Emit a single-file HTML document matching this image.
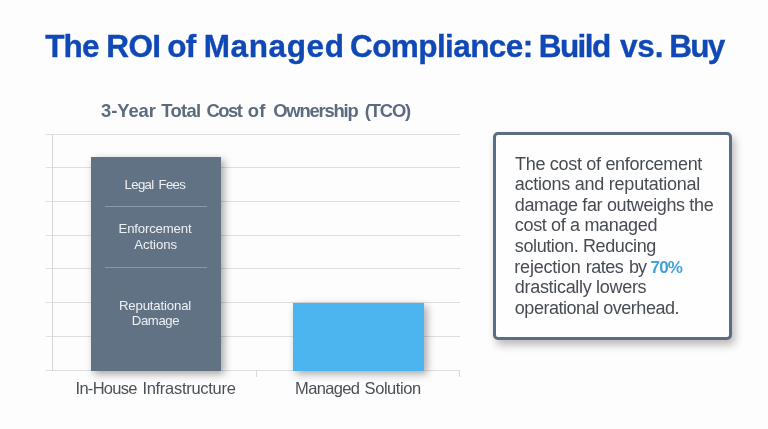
<!DOCTYPE html>
<html><head><meta charset="utf-8">
<title>The ROI of Managed Compliance: Build vs. Buy</title>
<style>
html,body{margin:0;padding:0;}
body{width:768px;height:429px;background:#fdfdfe;overflow:hidden;position:relative;font-family:"Liberation Sans",sans-serif;}
.ln{position:absolute;white-space:nowrap;line-height:20px;height:20px;font-weight:normal;}
.ln span{position:absolute;top:0;}
.ln i{font-style:normal;}
.t{color:#1049b6;font-weight:bold;-webkit-text-stroke:0.35px #1049b6;}
.c{color:#5d6b7f;font-weight:bold;}
.s{color:#eef1f4;}
.x{color:#4b5057;}
.p{color:#474c53;}
b.p{color:#3fa2dc;font-weight:bold;}
.grid{position:absolute;left:45.5px;width:414.2px;height:1px;background:#dedee2;}
#axis{position:absolute;left:52px;top:134px;width:1px;height:237px;background:#d6d6da;}
.tick{position:absolute;top:370px;width:1px;height:7px;background:#d9d9dd;}
#bar1{position:absolute;left:91px;top:157px;width:130px;height:213.5px;background:#617284;box-shadow:3px 3px 8px rgba(0,0,0,.36);}
#bar2{position:absolute;left:293.3px;top:303px;width:130.3px;height:67.5px;background:#4cb5ef;box-shadow:3px 3px 8px rgba(0,0,0,.34);}
.sep{position:absolute;left:104.5px;width:102.5px;height:1px;background:#8a98a9;}
#box{position:absolute;left:493.3px;top:132px;width:232.6px;height:202.2px;border:3.2px solid #5b6d82;border-radius:5px;background:#fefefe;box-shadow:3px 5px 8px rgba(0,0,0,.27);}
</style></head><body>
<div class="grid" style="top:134px"></div>
<div class="grid" style="top:167px"></div>
<div class="grid" style="top:201px"></div>
<div class="grid" style="top:235px"></div>
<div class="grid" style="top:268px"></div>
<div class="grid" style="top:302px"></div>
<div class="grid" style="top:336px"></div>
<div class="grid" style="top:370px"></div>
<div id="axis"></div>
<div class="tick" style="left:256.3px"></div>
<div class="tick" style="left:459px"></div>
<div id="bar1"></div>
<div id="bar2"></div>
<div class="sep" style="top:205.7px"></div>
<div class="sep" style="top:266.7px"></div>
<div id="box"></div>
<div id="title" class="ln t" style="left:0;top:36px;line-height:20px;height:20px;font-size:31.5px"><span style="left:45.2px;letter-spacing:-0.84px">The</span> <span style="left:106.3px;letter-spacing:-0.62px">ROI</span> <span style="left:167.3px;letter-spacing:-0.84px">of</span> <span style="left:203.7px;letter-spacing:0.62px">Managed</span> <span style="left:350.0px;letter-spacing:-0.58px">Compliance:</span> <span style="left:538.7px;letter-spacing:-1.55px">Build</span> <span style="left:620.0px;letter-spacing:-0.17px">vs.</span> <span style="left:669.3px;letter-spacing:-1.80px">Buy</span></div>
<div id="ctitle" class="ln c" style="left:0;top:100px;line-height:21px;height:21px;font-size:18.4px"><span style="left:101.1px;letter-spacing:-0.09px">3-Year</span> <span style="left:161.3px;letter-spacing:-0.69px">Total</span> <span style="left:206.6px;letter-spacing:-1.55px">Cost</span> <span style="left:247.8px;letter-spacing:0.30px">of</span> <span style="left:273.2px;letter-spacing:-1.19px">Ownership</span> <span style="left:364.7px;letter-spacing:-1.14px">(TCO)</span></div>
<div id="s1" class="ln s" style="left:124.5px;top:174px;line-height:21px;height:21px;font-size:13.2px;letter-spacing:-0.63px;word-spacing:1.80px">Legal Fees</div>
<div id="s2a" class="ln s" style="left:118.5px;top:218px;line-height:21px;height:21px;font-size:13.2px;letter-spacing:-0.17px;word-spacing:0.00px">Enforcement</div>
<div id="s2b" class="ln s" style="left:134.3px;top:234px;line-height:21px;height:21px;font-size:13.2px;letter-spacing:-0.08px;word-spacing:0.00px">Actions</div>
<div id="s3a" class="ln s" style="left:118.9px;top:295px;line-height:21px;height:21px;font-size:13.2px;letter-spacing:-0.15px;word-spacing:0.00px">Reputational</div>
<div id="s3b" class="ln s" style="left:131.8px;top:310px;line-height:21px;height:21px;font-size:13.2px;letter-spacing:-0.42px;word-spacing:0.00px">Damage</div>
<div id="xl1" class="ln x" style="left:0;top:378px;line-height:20px;height:20px;font-size:16.5px"><span style="left:75.6px;letter-spacing:-0.74px">In-House</span> <span style="left:142.4px;letter-spacing:-0.29px">Infrastructure</span></div>
<div id="xl2" class="ln x" style="left:0;top:378px;line-height:20px;height:20px;font-size:16.5px"><span style="left:295.1px;letter-spacing:-0.67px">Managed</span> <span style="left:364.6px;letter-spacing:-0.44px">Solution</span></div>
<div id="p1" class="ln p" style="left:515.1px;top:154px;line-height:20px;height:20px;font-size:18px;letter-spacing:-0.31px;word-spacing:0.00px">The cost of enforcement</div>
<div id="p2" class="ln p" style="left:514.8px;top:174px;line-height:20px;height:20px;font-size:18px;letter-spacing:-0.25px;word-spacing:0.00px">actions and reputational</div>
<div id="p3" class="ln p" style="left:514.8px;top:195px;line-height:20px;height:20px;font-size:18px;letter-spacing:-0.36px;word-spacing:0.00px">damage far outweighs the</div>
<div id="p4" class="ln p" style="left:514.8px;top:215px;line-height:20px;height:20px;font-size:18px;letter-spacing:-0.34px;word-spacing:0.00px">cost of a managed</div>
<div id="p5" class="ln p" style="left:514.8px;top:236px;line-height:20px;height:20px;font-size:18px;letter-spacing:-0.39px;word-spacing:0.00px">solution. Reducing</div>
<div id="p6" class="ln p" style="left:514.3px;top:257px;line-height:20px;height:20px;font-size:18px;letter-spacing:-0.5px;word-spacing:-0.3px"><i style="letter-spacing:-0.2px">rejection</i> <i style="margin-left:0.9px">rates</i> <i style="margin-left:1.6px;letter-spacing:-1.1px">by</i></div>
<b id="p6b" class="ln p" style="left:650.6px;top:257px;line-height:21px;height:21px;font-size:17px;letter-spacing:-0.85px;word-spacing:0.00px">70%</b>
<div id="p7" class="ln p" style="left:514.8px;top:277px;line-height:20px;height:20px;font-size:18px;letter-spacing:-0.31px;word-spacing:0.00px">drastically lowers</div>
<div id="p8" class="ln p" style="left:514.8px;top:298px;line-height:20px;height:20px;font-size:18px;letter-spacing:-0.47px;word-spacing:0.00px">operational overhead.</div>
</body></html>
